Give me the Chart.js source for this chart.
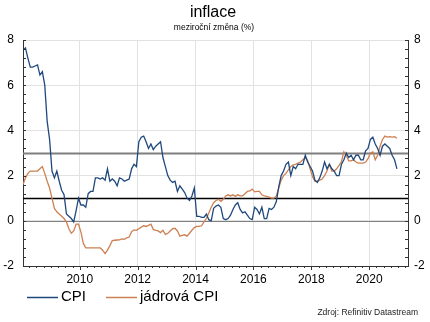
<!DOCTYPE html>
<html>
<head>
<meta charset="utf-8">
<script src="https://cdn.jsdelivr.net/npm/chart.js@4.4.1/dist/chart.umd.min.js"></script>
<style>
  html, body { margin: 0; padding: 0; background: #fff; }
  #wrap { width: 430px; height: 322px; }
</style>
</head>
<body>
<div id="wrap"><canvas id="c" width="430" height="322"></canvas></div>
<script>
// Monthly year-on-year change (%), January 2008 – December 2020
const startYear = 2008;

const cpi = [
  // 2008
  7.55, 7.65, 7.2, 6.8, 6.8, 6.85, 6.9, 6.45, 6.6, 6.0, 4.4, 3.6,
  // 2009
  2.2, 1.9, 2.2, 1.75, 1.35, 1.15, 0.3, 0.2, 0.1, -0.05, 0.45, 1.0,
  // 2010
  0.7, 0.7, 0.6, 1.2, 1.3, 1.3, 1.9, 1.9, 1.85, 1.9, 1.8, 2.3,
  // 2011
  1.75, 1.85, 1.75, 1.55, 1.9, 1.85, 1.75, 1.8, 1.85, 2.3, 2.5, 2.4,
  // 2012
  3.5, 3.7, 3.75, 3.5, 3.2, 3.4, 3.15, 3.3, 3.4, 3.5, 2.8, 2.4,
  // 2013
  2.0, 1.8, 1.7, 1.75, 1.3, 1.55, 1.4, 1.25, 1.0, 0.9, 1.1, 1.45,
  // 2014
  0.2, 0.2, 0.15, 0.15, 0.3, 0.05, 0.0, 0.55, 0.65, 0.7, 0.6, 0.1,
  // 2015
  0.05, 0.1, 0.25, 0.5, 0.7, 0.8, 0.5, 0.35, 0.4, 0.25, 0.1, 0.05,
  // 2016
  0.6, 0.5, 0.3, 0.6, 0.1, 0.1, 0.55, 0.5, 0.6, 0.85, 1.5, 2.0,
  // 2017
  2.2, 2.5, 2.6, 2.0, 2.4, 2.3, 2.5, 2.5, 2.5, 2.9, 2.6, 2.4,
  // 2018
  2.2, 1.8, 1.7, 1.9, 2.2, 2.6, 2.3, 2.5, 2.3, 2.2, 2.0, 2.0,
  // 2019
  2.5, 2.7, 3.0, 2.8, 2.9, 2.7, 2.9, 2.9, 2.7, 2.7, 3.1, 3.2,
  // 2020
  3.6, 3.7, 3.4, 3.2, 2.9, 3.3, 3.4, 3.3, 3.2, 2.9, 2.7, 2.3
];

const coreCpi = [
  // 2008
  1.6, 1.9, 2.1, 2.2, 2.2, 2.2, 2.2, 2.3, 2.4, 2.1, 1.75, 1.45,
  // 2009
  1.0, 0.55, 0.4, 0.3, 0.2, 0.1, -0.05, -0.35, -0.55, -0.45, -0.15, -0.15,
  // 2010
  -0.5, -1.0, -1.2, -1.2, -1.2, -1.2, -1.2, -1.2, -1.2, -1.3, -1.45, -1.3,
  // 2011
  -1.1, -0.88, -0.86, -0.85, -0.84, -0.8, -0.82, -0.75, -0.72, -0.48, -0.4, -0.42,
  // 2012
  -0.35, -0.28, -0.22, -0.25, -0.2, -0.15, -0.38, -0.42, -0.45, -0.52, -0.42, -0.6,
  // 2013
  -0.55, -0.45, -0.35, -0.33, -0.45, -0.68, -0.65, -0.62, -0.68, -0.55, -0.42, -0.3,
  // 2014
  -0.25, -0.25, -0.22, -0.05, 0.1, 0.35, 0.6, 0.8, 0.9, 0.95, 0.86, 0.95,
  // 2015
  1.1, 1.15, 1.1, 1.15, 1.08, 1.15, 1.1, 1.1, 1.2, 1.3, 1.32, 1.4,
  // 2016
  1.28, 1.3, 1.3, 1.15, 1.1, 1.08, 1.05, 1.0, 1.0, 1.1, 1.45, 1.8,
  // 2017
  2.0, 2.1, 2.25, 2.4, 2.48, 2.5, 2.55, 2.6, 2.7, 2.8, 2.65, 2.3,
  // 2018
  1.95, 1.75, 1.75, 1.8, 1.85, 2.0, 2.2, 2.5, 2.2, 2.2, 2.3, 2.45,
  // 2019
  2.62, 3.05, 2.9, 2.65, 2.65, 2.7, 2.6, 2.55, 2.55, 2.55, 2.6, 2.75,
  // 2020
  3.0, 3.05, 2.7, 2.9, 3.3, 3.6, 3.75, 3.7, 3.72, 3.7, 3.72, 3.65
];

const seriesNames = ['CPI', 'jádrová CPI'];
const yearTicks = [2010, 2012, 2014, 2016, 2018, 2020];
const valueTicks = [-2, 0, 2, 4, 6, 8];
const referenceLevels = [3, 1, 0];

const titleText = 'inflace';
const subtitleText = 'meziroční změna (%)';
const sourceText = 'Zdroj: Refinitiv Datastream';

const FONT = '"Liberation Sans", Arial, Helvetica, sans-serif';
Chart.defaults.font.family = FONT;
Chart.defaults.color = '#000';

// monthly observations placed at mid-month on a decimal-year axis
const toPoints = arr => arr.map((v, i) => ({ x: startYear + (i + 0.5) / 12, y: v }));

const refStyles = {
  3: { color: '#7f7f7f', width: 2 },
  1: { color: '#000000', width: 1.4 },
  0: { color: '#808080', width: 1 }
};

const decorations = {
  id: 'decorations',
  beforeDatasetsDraw(chart) {
    const { ctx, chartArea, scales } = chart;
    ctx.save();
    referenceLevels.forEach(level => {
      const y = Math.round(scales.y.getPixelForValue(level)) + 0.5;
      const st = refStyles[level];
      ctx.strokeStyle = st.color;
      ctx.lineWidth = st.width;
      ctx.beginPath();
      ctx.moveTo(chartArea.left, y);
      ctx.lineTo(chartArea.right, y);
      ctx.stroke();
    });
    ctx.restore();
  },
  afterDraw(chart) {
    const { ctx, chartArea, scales } = chart;
    ctx.save();
    ctx.strokeStyle = '#333';
    ctx.lineWidth = 1;
    // minor ticks on both value axes
    for (let v = -2; v <= 8.001; v += 0.4) {
      const y = Math.round(scales.y.getPixelForValue(v)) + 0.5;
      ctx.beginPath();
      ctx.moveTo(chartArea.left, y);
      ctx.lineTo(chartArea.left + 3, y);
      ctx.moveTo(chartArea.right, y);
      ctx.lineTo(chartArea.right - 3, y);
      ctx.stroke();
    }
    // quarterly ticks on the time axis
    const xs = scales.x;
    for (let q = Math.ceil(xs.min * 4); q <= xs.max * 4; q++) {
      const t = q / 4;
      const x = Math.round(xs.getPixelForValue(t)) + 0.5;
      const isMajor = Number.isInteger(t) && t % 2 === 0;
      ctx.beginPath();
      ctx.moveTo(x, chartArea.bottom);
      ctx.lineTo(x, chartArea.bottom + (isMajor ? 4 : 2));
      ctx.stroke();
    }
    ctx.restore();

    // title, subtitle, legend, source
    ctx.save();
    ctx.fillStyle = '#000';
    ctx.textAlign = 'center';
    ctx.textBaseline = 'middle';
    ctx.font = '16px ' + FONT;
    ctx.fillText(titleText, 213, 13);
    ctx.font = '8.5px ' + FONT;
    ctx.fillText(subtitleText, 214, 28);

    ctx.textAlign = 'left';
    ctx.font = '15px ' + FONT;
    const legendX = [27, 106];
    chart.data.datasets.forEach((ds, i) => {
      const lx = legendX[i];
      ctx.strokeStyle = ds.borderColor;
      ctx.lineWidth = 1.5;
      ctx.beginPath();
      ctx.moveTo(lx, 297.5);
      ctx.lineTo(lx + 31, 297.5);
      ctx.stroke();
      ctx.fillText(ds.label, lx + 34, 297);
    });

    ctx.textAlign = 'right';
    ctx.font = '8.5px ' + FONT;
    ctx.fillStyle = '#222';
    ctx.fillText(sourceText, 418, 313);
    ctx.restore();
  }
};

new Chart(document.getElementById('c'), {
  type: 'line',
  data: {
    datasets: [
      {
        label: seriesNames[0],
        data: toPoints(cpi),
        borderColor: '#1f497d',
        borderWidth: 1.3,
        pointRadius: 0,
        tension: 0,
        order: 0
      },
      {
        label: seriesNames[1],
        data: toPoints(coreCpi),
        borderColor: '#cd8052',
        borderWidth: 1.3,
        pointRadius: 0,
        tension: 0,
        order: 1
      }
    ]
  },
  options: {
    responsive: false,
    animation: false,
    layout: { padding: { top: 40, left: 0, right: 0, bottom: 0 } },
    plugins: {
      legend: { display: false },
      title: { display: false },
      tooltip: { enabled: false }
    },
    scales: {
      x: {
        type: 'linear',
        min: 2008.04,
        max: 2021.34,
        afterFit(scale) { scale.height = 56; },
        afterBuildTicks(scale) { scale.ticks = yearTicks.map(v => ({ value: v })); },
        ticks: {
          font: { size: 12 },
          color: '#000',
          padding: 6,
          maxRotation: 0,
          callback: v => String(v)
        },
        grid: { color: '#e2e2e2', lineWidth: 1, drawTicks: false },
        border: { display: true, color: '#333', width: 1 }
      },
      y: {
        position: 'left',
        min: -2,
        max: 8,
        afterFit(scale) { scale.width = 23; },
        afterBuildTicks(scale) { scale.ticks = valueTicks.map(v => ({ value: v })); },
        ticks: { font: { size: 12 }, color: '#000', padding: 9, callback: v => String(v) },
        grid: { color: '#e2e2e2', lineWidth: 1, drawTicks: false },
        border: { display: true, color: '#333', width: 1 }
      },
      y2: {
        position: 'right',
        min: -2,
        max: 8,
        afterFit(scale) { scale.width = 22; },
        afterBuildTicks(scale) { scale.ticks = valueTicks.map(v => ({ value: v })); },
        ticks: { font: { size: 12 }, color: '#000', padding: 6, callback: v => String(v) },
        grid: { display: false, drawTicks: false },
        border: { display: true, color: '#333', width: 1 }
      }
    }
  },
  plugins: [decorations]
});
</script>
</body>
</html>
